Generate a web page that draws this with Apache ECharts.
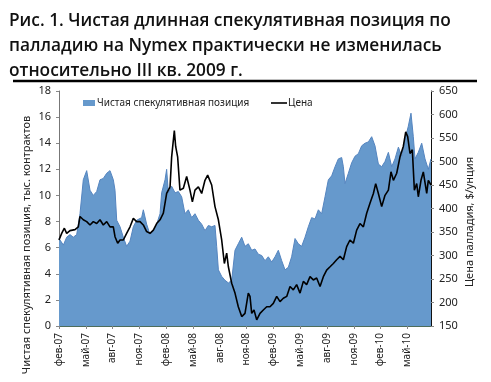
<!DOCTYPE html>
<html>
<head>
<meta charset="utf-8">
<script src="https://cdn.jsdelivr.net/npm/echarts@6/dist/echarts.min.js"></script>
<style>
html,body{margin:0;padding:0;background:#fff;}
#c{width:491px;height:382px;}
</style>
</head>
<body>
<div id="c"></div>
<script>
// Tick labels of the time axis (one every 3 months, starting Feb 2007)
const xLabels = ['фев-07','май-07','авг-07','ноя-07','фев-08','май-08','авг-08','ноя-08','фев-09','май-09','авг-09','ноя-09','фев-10','май-10'];

// Net speculative position: time (months since 1 Feb 2007) and value (thousand contracts)
const netMonths = [0,0.49,0.86,1.23,1.60,1.98,2.35,2.72,3.10,3.47,3.84,4.22,4.59,4.96,5.34,5.71,6.08,6.27,6.46,6.83,7.20,7.57,7.95,8.32,8.69,9.25,9.44,9.81,10.19,10.56,10.93,11.31,11.49,11.87,12.05,12.24,12.61,12.99,13.36,13.73,14.10,14.48,14.85,15.22,15.60,15.97,16.34,16.72,17.09,17.46,17.65,17.84,18.21,18.58,18.96,19.33,19.70,20.07,20.45,20.82,21.19,21.57,21.94,22.31,22.69,23.06,23.43,23.81,24.18,24.55,24.93,25.30,25.67,26.04,26.42,26.79,27.16,27.54,27.91,28.28,28.66,29.03,29.40,29.78,30.15,30.52,30.90,31.27,31.64,31.83,32.01,32.39,32.76,33.13,33.51,33.88,34.25,34.63,35.00,35.37,35.75,36.12,36.49,36.87,37.24,37.61,37.99,38.36,38.73,39.10,39.40,39.66,39.85,40.22,40.60,40.97,41.34,41.64];
const netValues = [6.7,6.2,6.8,7.0,6.8,7.0,8.6,11.2,11.9,10.4,10.0,10.3,11.2,11.3,11.7,11.9,11.2,10.4,8.1,7.6,6.8,6.1,6.5,7.6,8.1,8.3,8.9,7.8,7.0,7.3,7.8,8.6,10.2,11.2,12.0,10.2,10.7,10.2,10.3,9.9,8.6,8.9,8.3,8.6,8.1,7.8,7.3,7.7,7.6,7.7,6.1,4.3,3.8,3.5,3.3,3.5,5.8,6.3,6.8,6.1,6.3,5.8,5.9,5.5,5.4,5.0,5.3,4.9,5.3,5.8,5.0,4.3,4.5,5.3,6.7,6.3,6.1,6.8,7.6,8.3,8.2,8.9,8.6,9.9,11.2,11.5,12.2,12.8,12.9,12.2,10.9,11.7,12.5,13.0,13.2,13.8,14.0,14.1,14.5,13.8,12.4,12.2,12.6,13.3,12.2,12.8,13.7,13.0,14.3,15.3,16.3,14.5,12.8,13.3,14.0,12.8,12.0,12.8];

// Palladium price: time (months since 1 Feb 2007) and value ($/oz)
const priceMonths = [0,0.30,0.60,0.86,1.23,1.79,2.16,2.35,2.72,3.10,3.47,3.84,4.22,4.59,4.96,5.34,5.71,6.08,6.27,6.57,6.83,7.20,7.57,7.95,8.32,8.69,9.07,9.44,9.81,10.19,10.56,10.93,11.31,11.68,12.05,12.43,12.61,12.91,13.06,13.28,13.54,13.92,14.29,14.66,14.93,15.22,15.60,15.97,16.34,16.64,17.09,17.46,17.84,18.21,18.51,18.77,18.96,19.33,19.70,20.07,20.45,20.82,21.19,21.38,21.57,21.83,22.13,22.50,22.87,23.25,23.62,23.99,24.37,24.74,25.11,25.49,25.86,26.23,26.60,26.98,27.35,27.72,28.10,28.47,28.84,29.22,29.59,29.96,30.34,30.71,31.08,31.46,31.83,32.20,32.57,32.95,33.32,33.69,34.07,34.44,34.81,35.19,35.45,35.75,36.12,36.49,36.87,37.16,37.43,37.80,38.17,38.54,38.81,39.03,39.29,39.55,39.78,40.04,40.22,40.52,40.78,40.97,41.16,41.34,41.64];
const priceValues = [333,347,358,347,353,355,361,383,376,372,365,372,368,376,365,372,361,361,340,326,333,333,347,361,379,372,372,365,351,347,354,368,376,390,432,446,510,566,532,510,439,443,468,439,414,439,446,432,460,471,450,404,376,333,283,305,276,241,220,191,170,177,220,213,177,184,163,177,184,191,191,198,213,202,209,213,234,227,238,220,245,238,255,248,252,234,255,269,276,283,291,298,291,319,333,326,354,368,361,390,411,432,453,432,404,428,439,478,460,475,510,532,563,553,517,525,439,453,425,460,478,475,432,460,450];

const netName = 'Чистая спекулятивная позиция';
const priceName = 'Цена';
const titleText = 'Рис. 1. Чистая длинная спекулятивная позиция по\nпалладию на Nymex практически не изменилась\nотносительно III кв. 2009 г.';
const leftAxisName = 'Чистая спекулятивная позиция, тыс. контрактов';
const rightAxisName = 'Цена палладия, $/унция';

const FONT = 'Noto Sans';
const chart = echarts.init(document.getElementById('c'), null, {renderer: 'canvas'});
const xMax = netMonths[netMonths.length - 1];

chart.setOption({
  animation: false,
  backgroundColor: '#fff',
  textStyle: {fontFamily: FONT},
  title: {
    text: titleText,
    left: 4, top: 4,
    textStyle: {fontFamily: 'Open Sans', fontWeight: 600, fontSize: 17.3, lineHeight: 25, color: '#111'}
  },
  legend: [{
    left: 78, top: 93, itemWidth: 12, itemHeight: 6, itemGap: 2,
    textStyle: {fontSize: 10, color: '#222', padding: [0, 0, 0, -3]},
    data: [{name: netName, icon: 'rect'}]
  }, {
    left: 266, top: 93, itemWidth: 16, itemHeight: 1.6,
    textStyle: {fontSize: 10, color: '#222', padding: [0, 0, 0, -4]},
    data: [{name: priceName, icon: 'rect'}]
  }],
  grid: {left: 59, right: 60, top: 91, bottom: 56, containLabel: false},
  xAxis: {
    type: 'value', min: 0, max: xMax, interval: 3,
    splitLine: {show: false},
    axisLine: {lineStyle: {color: '#4e6e5c', width: 1}},
    axisTick: {show: true, length: 3, lineStyle: {color: '#888'}},
    axisLabel: {
      rotate: 90, margin: 7, fontSize: 10, color: '#222', showMaxLabel: false,
      formatter: v => { const i = Math.round(v / 3); return Math.abs(v - i * 3) < 1e-6 && xLabels[i] ? xLabels[i] : ''; }
    }
  },
  yAxis: [{
    type: 'value', min: 0, max: 18, interval: 2, position: 'left',
    splitLine: {show: false},
    axisLine: {show: true, lineStyle: {color: '#777'}},
    axisTick: {show: true, length: 3, lineStyle: {color: '#888'}},
    axisLabel: {fontSize: 11, color: '#222', margin: 8}
  }, {
    type: 'value', min: 150, max: 650, interval: 50, position: 'right',
    splitLine: {show: false},
    axisLine: {show: true, lineStyle: {color: '#111'}},
    axisTick: {show: true, length: 3, lineStyle: {color: '#888'}},
    axisLabel: {fontSize: 11, color: '#222', margin: 8}
  }],
  graphic: [
    {type: 'line', shape: {x1: 13, y1: 81, x2: 477, y2: 81}, style: {stroke: '#000', lineWidth: 2.5}},
    {type: 'text', x: 27, y: 245, rotation: Math.PI / 2,
     style: {text: leftAxisName, fontSize: 11, fontFamily: FONT, fill: '#222', align: 'center', verticalAlign: 'middle'}},
    {type: 'text', x: 470, y: 222, rotation: Math.PI / 2,
     style: {text: rightAxisName, fontSize: 11, fontFamily: FONT, fill: '#222', align: 'center', verticalAlign: 'middle'}}
  ],
  series: [{
    name: netName, type: 'line', yAxisIndex: 0,
    data: netMonths.map((m, i) => [m, netValues[i]]),
    showSymbol: false, symbol: 'none',
    color: '#6699cc',
    lineStyle: {color: '#5585c0', width: 1},
    areaStyle: {color: '#6699cc', opacity: 1}
  }, {
    name: priceName, type: 'line', yAxisIndex: 1,
    data: priceMonths.map((m, i) => [m, priceValues[i]]),
    showSymbol: false, symbol: 'none',
    color: '#000',
    lineStyle: {color: '#000', width: 1.6}
  }]
});
</script>
</body>
</html>
